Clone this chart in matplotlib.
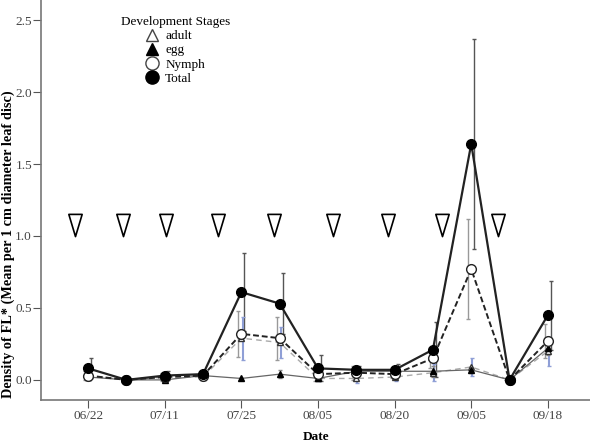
import matplotlib.pyplot as plt
from matplotlib.path import Path
from matplotlib.lines import Line2D

plt.rcParams['font.family'] = ['Liberation Serif', 'DejaVu Serif']

# sampling dates (only every second one is labelled)
dates = ['06/22', '', '07/11', '', '07/25', '', '08/05', '', '08/20', '', '09/05', '', '09/18']

total = [0.08, 0.0, 0.03, 0.04, 0.61, 0.53, 0.08, 0.07, 0.07, 0.21, 1.64, 0.0, 0.45]
nymph = [0.03, 0.0, 0.02, 0.03, 0.32, 0.29, 0.04, 0.05, 0.04, 0.15, 0.77, 0.0, 0.27]
egg = [0.02, 0.0, 0.0, 0.03, 0.01, 0.04, 0.01, 0.06, 0.06, 0.06, 0.07, 0.0, 0.22]
adult = [0.03, 0.0, 0.02, 0.02, 0.29, 0.26, 0.01, 0.01, 0.02, 0.05, 0.09, 0.0, 0.20]

total_err = [0.07, 0.0, 0.03, 0.02, 0.27, 0.21, 0.09, 0.03, 0.04, 0.19, 0.73, 0.0, 0.24]
nymph_err = [0.03, 0.0, 0.03, 0.02, 0.16, 0.15, 0.05, 0.05, 0.03, 0.07, 0.35, 0.0, 0.12]
adult_err = [0.03, 0.0, 0.01, 0.01, 0.15, 0.11, 0.02, 0.03, 0.03, 0.06, 0.06, 0.0, 0.10]
egg_err = [0.01, 0.0, 0.01, 0.01, 0.0, 0.03, 0.01, 0.04, 0.03, 0.04, 0.02, 0.0, 0.05]

# spray events (position on the date axis)
spray_x = [-0.34, 0.91, 2.04, 3.39, 4.86, 6.4, 7.83, 9.24, 10.7]
spray_y = 1.075

x = list(range(len(dates)))

fig = plt.figure(figsize=(5.9, 4.44), dpi=100)
ax = fig.add_axes([0.0695, 0.099, 0.9305, 0.901])

# error bars first
ax.errorbar([i + 0.08 for i in x], total, yerr=total_err, fmt='none', ecolor='#555555',
            elinewidth=1.0, capsize=1.5, zorder=2)
ax.errorbar([i - 0.08 for i in x], nymph, yerr=nymph_err, fmt='none', ecolor='#999999',
            elinewidth=1.0, capsize=1.5, zorder=2)
ax.errorbar([i + 0.03 for i in x], adult, yerr=adult_err, fmt='none', ecolor='#8f9fd6',
            elinewidth=1.5, capsize=1.5, zorder=2)
ax.errorbar(x, egg, yerr=egg_err, fmt='none', ecolor='#888888',
            elinewidth=0.8, capsize=1.5, zorder=2)

# lines
ax.plot(x, adult, color='#aaaaaa', lw=1.0, ls=(0, (4, 3)), marker='^', ms=5,
        mfc='white', mec='#333333', zorder=3)
ax.plot(x, egg, color='#666666', lw=0.9, marker='^', ms=5,
        mfc='black', mec='black', zorder=3)
ax.plot(x, nymph, color='#222222', lw=1.4, ls=(0, (3, 1.5)), marker='o', ms=7,
        mfc='white', mec='#222222', zorder=4)
ax.plot(x, total, color='#222222', lw=1.6, marker='o', ms=7,
        mfc='black', mec='black', zorder=5)

# spray markers: tall open down triangles
tri = Path([(-0.6, 1), (0.6, 1), (0, -1), (-0.6, 1)],
           [Path.MOVETO, Path.LINETO, Path.LINETO, Path.CLOSEPOLY])
ax.plot(spray_x, [spray_y] * len(spray_x), ls='none', marker=tri, ms=16,
        mfc='white', mec='black', mew=1.2, zorder=6)

ax.set_xlim(-1.23, 13.1)
ax.set_ylim(-0.14, 2.64)

tick_pos = [i for i, d in enumerate(dates) if d]
ax.set_xticks(tick_pos)
ax.set_xticklabels([d for d in dates if d])
ax.set_yticks([0.0, 0.5, 1.0, 1.5, 2.0, 2.5])
ax.set_yticklabels(['0.0', '0.5', '1.0', '1.5', '2.0', '2.5'])
ax.tick_params(colors='#555555', labelcolor='#444444', labelsize=9.5, length=5.5, pad=1)
ax.tick_params(axis='x', pad=2)

for side in ['top', 'right']:
    ax.spines[side].set_visible(False)
for side in ['left', 'bottom']:
    ax.spines[side].set_color('#777777')
    ax.spines[side].set_linewidth(1.2)

fig.text(316 / 590, 1 - 437 / 444, 'Date', ha='center', va='center',
         fontsize=9.5, fontweight='bold')
fig.text(8 / 590, 1 - 244 / 444, 'Density of FL* (Mean per 1 cm diameter leaf disc)',
         rotation=90, ha='center', va='center', fontsize=10.3, fontweight='bold')

handles = [
    Line2D([], [], ls='none', marker='^', ms=8, mfc='white', mec='#444444'),
    Line2D([], [], ls='none', marker='^', ms=8, mfc='black', mec='black'),
    Line2D([], [], ls='none', marker='o', ms=9.5, mfc='white', mec='#444444'),
    Line2D([], [], ls='none', marker='o', ms=9.5, mfc='black', mec='black'),
]
leg = ax.legend(handles, ['adult', 'egg', 'Nymph', 'Total'], title='Development Stages',
                loc='upper left', bbox_to_anchor=(0.128, 0.983), frameon=False,
                fontsize=9.5, title_fontsize=9.5, handlelength=1.0,
                handletextpad=0.5, labelspacing=0.15, borderpad=0.2)

fig.savefig('out.png', dpi=100)
